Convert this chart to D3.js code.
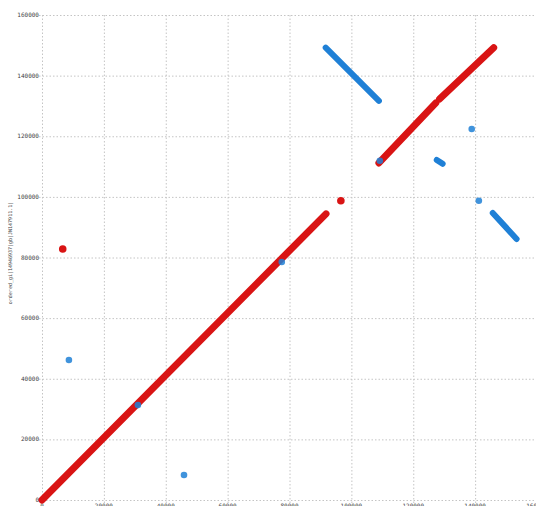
<!DOCTYPE html>
<html>
<head>
<meta charset="utf-8">
<script src="https://cdn.jsdelivr.net/npm/d3@7"></script>
<style>
	body { margin: 0; background: #fff; }
	svg { display: block; }
	.tick-label { font-family: "DejaVu Sans Mono", monospace; font-size: 6px; fill: #444; }
	.axis-title { font-family: "DejaVu Sans Mono", monospace; font-size: 5px; fill: #444; }
</style>
</head>
<body>
<div class="dot-plot"></div>
<script>
// tick values for both axes
var xTicks = [0, 20000, 40000, 60000, 80000, 100000, 120000, 140000, 160000];
var yTicks = [0, 20000, 40000, 60000, 80000, 100000, 120000, 140000, 160000];

// forward matches (red): [x1, y1, x2, y2]
var fwdSegments = [
	[0, 0, 91800, 94400],
	[108900, 111200, 127300, 131000],
	[128500, 132300, 146000, 149200]
];
var fwdPoints = [
	[6700, 82800],
	[96600, 98700]
];

// reverse matches (blue)
var revSegments = [
	[91700, 149200, 108900, 131700],
	[127600, 112200, 129500, 110900],
	[145700, 94700, 153400, 86100]
];
var revPoints = [
	[8700, 46200],
	[45900, 8250],
	[138900, 122400],
	[141200, 98700],
	[31000, 31300],
	[77500, 78500],
	[109200, 111900]
];

var yLabel = "ordered_gi|14946937|gb|JN147911.1|";

var W = 536, H = 506;
var plot = {left: 42, right: 537, top: 15, bottom: 500};

var svg = d3.select(".dot-plot").append("svg")
	.attr("width", W)
	.attr("height", H);

var x = d3.scaleLinear().domain([0, 160000]).range([plot.left, plot.right]);
var y = d3.scaleLinear().domain([0, 160000]).range([plot.bottom, plot.top]);

// dotted grid
svg.append("g").selectAll("line").data(xTicks).enter().append("line")
	.attr("x1", function (d) { return x(d) + 0.5; })
	.attr("x2", function (d) { return x(d) + 0.5; })
	.attr("y1", plot.top).attr("y2", plot.bottom + 3)
	.attr("stroke", "#c4c4c4").attr("stroke-dasharray", "1.5,2");

svg.append("g").selectAll("line").data(yTicks).enter().append("line")
	.attr("y1", function (d) { return y(d) + 0.5; })
	.attr("y2", function (d) { return y(d) + 0.5; })
	.attr("x1", plot.left - 3).attr("x2", plot.right)
	.attr("stroke", "#c4c4c4").attr("stroke-dasharray", "1.5,2");

// tick labels
svg.append("g").selectAll("text").data(yTicks).enter().append("text")
	.attr("class", "tick-label")
	.attr("text-anchor", "end")
	.attr("x", plot.left - 3)
	.attr("y", function (d) { return y(d) + 2; })
	.text(function (d) { return d; });

svg.append("g").selectAll("text").data(xTicks).enter().append("text")
	.attr("class", "tick-label")
	.attr("text-anchor", "middle")
	.attr("x", function (d) { return x(d); })
	.attr("y", plot.bottom + 8)
	.text(function (d) { return d; });

svg.append("text")
	.attr("class", "axis-title")
	.attr("text-anchor", "middle")
	.attr("transform", "translate(12,253) rotate(-90)")
	.text(yLabel);

function drawSegments(data, color, width) {
	svg.append("g").selectAll("line").data(data).enter().append("line")
		.attr("x1", function (d) { return x(d[0]); })
		.attr("y1", function (d) { return y(d[1]); })
		.attr("x2", function (d) { return x(d[2]); })
		.attr("y2", function (d) { return y(d[3]); })
		.attr("stroke", color)
		.attr("stroke-width", width)
		.attr("stroke-linecap", "round");
}

function drawPoints(data, color, r, opacity) {
	svg.append("g").selectAll("circle").data(data).enter().append("circle")
		.attr("cx", function (d) { return x(d[0]); })
		.attr("cy", function (d) { return y(d[1]); })
		.attr("r", r)
		.attr("fill", color)
		.attr("fill-opacity", opacity);
}

var red = "#d91414", blue = "#1f80d6";

drawSegments(fwdSegments, red, 7);
drawPoints(fwdPoints, red, 3.8, 1);
drawSegments(revSegments, blue, 6);
drawPoints(revPoints, blue, 3.3, 0.85);
</script>
</body>
</html>
